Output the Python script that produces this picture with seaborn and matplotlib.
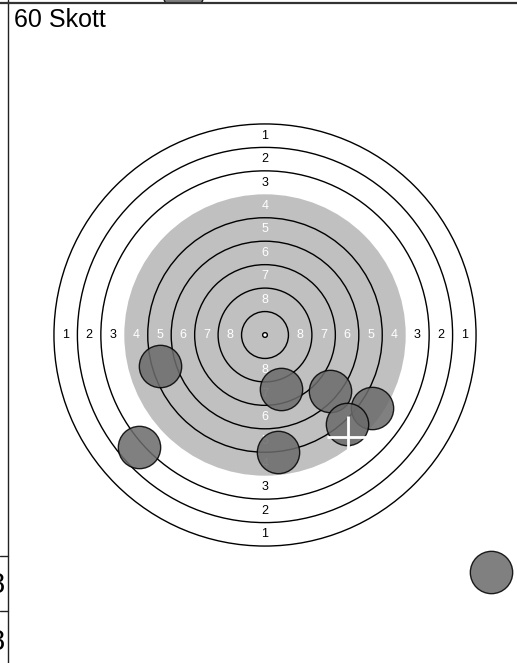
import numpy as np
import matplotlib
matplotlib.use('Agg')
import matplotlib.pyplot as plt
from matplotlib.patches import Circle, Rectangle
import seaborn as sns

# Target geometry in ring units (1 unit = distance between two rings)
ring_scores = [1, 2, 3, 4, 5, 6, 7, 8, 9]
ring_radii = [9, 8, 7, 6, 5, 4, 3, 2, 1]
label_scores = [1, 2, 3, 4, 5, 6, 7, 8]
black_rings = [6]  # radius of the grey aiming area (rings 4 and up)

# Shots, relative to target centre, in ring units
shot_x = [-4.46, 0.67, 2.76, 4.57, 3.50, -5.39, 0.54, 9.62]
shot_y = [-1.31, -2.31, -2.38, -3.11, -3.80, -4.79, -5.01, -10.11]

# Shot seen above the panel border (clipped)
top_x = [-3.50]
top_y = [14.67]

# Mean point of impact marker
mpi_x = [3.55]
mpi_y = [-4.35]

title = "60 Skott"
side_labels = ["8", "8"]

# pixel layout of the picture
W, H = 517, 663
cx, cy = 265.0, 335.0
px_per_unit = 23.45

sns.set_theme(style='white')
plt.rcParams['font.family'] = ['Liberation Sans', 'DejaVu Sans']

fig = plt.figure(figsize=(W / 100, H / 100), dpi=100)
ax = fig.add_axes([0, 0, 1, 1])
ax.set_xlim(-cx / px_per_unit, (W - cx) / px_per_unit)
ax.set_ylim(-(H - cy) / px_per_unit, cy / px_per_unit)
ax.axis('off')

# grey aiming area
ax.add_patch(Circle((0, 0), black_rings[0], facecolor='#c0c0c0', edgecolor='none', zorder=1))

# ring lines
for score, r in zip(ring_scores, ring_radii):
    if score == 4:
        continue  # edge of grey area has no line
    ax.add_patch(Circle((0, 0), r, facecolor='none', edgecolor='black', lw=1.0, zorder=2))

# the 10 ring dot
ax.add_patch(Circle((0, 0), 0.1, facecolor='white', edgecolor='black', lw=1.0, zorder=2))

# ring numbers on the four axes
for score in label_scores:
    d = 10 - score - 0.5
    col = 'white' if score >= 4 else 'black'
    for (dx, dy) in [(0, d), (0, -d), (-d, 0), (d, 0)]:
        ax.text(dx, dy, str(score), color=col, fontsize=9, ha='center', va='center', zorder=3)

# shots
sns.scatterplot(x=shot_x, y=shot_y, s=930, color='#6b6b6b', alpha=0.86,
                edgecolor='black', linewidth=1.0, ax=ax, zorder=5, legend=False)

# shot in the panel above, clipped at the border line
border_y = (cy - 3.2) / px_per_unit
sns.scatterplot(x=top_x, y=top_y, s=930, color='#6b6b6b', alpha=0.86,
                edgecolor='black', linewidth=1.0, ax=ax, zorder=5, legend=False)
clip = Rectangle((-20, border_y), 40, 10, transform=ax.transData)
ax.collections[-1].set_clip_path(clip)

# mean point of impact cross
arm = 0.9
for mx, my in zip(mpi_x, mpi_y):
    ax.plot([mx - arm, mx + arm], [my, my], color='white', lw=2, zorder=6, solid_capstyle='butt')
    ax.plot([mx, mx], [my - arm, my + arm], color='white', lw=2, zorder=6, solid_capstyle='butt')

# panel borders
vx = 8.3 / W
ax.plot([vx, vx], [0, 1], transform=ax.transAxes, color='#222222', lw=1.0, zorder=7)
ax.plot([0, 1], [1 - 3.2 / H, 1 - 3.2 / H], transform=ax.transAxes, color='#333333', lw=1.6, zorder=7)
for yy in [556, 611]:
    ax.plot([0, vx], [1 - yy / H, 1 - yy / H], transform=ax.transAxes, color='#222222', lw=1.0, zorder=7)

fig.text(14.5 / W, 1 - 27 / H, title, fontsize=18, ha='left', va='baseline', color='black')
for lbl, yy in zip(side_labels, [593, 650]):
    fig.text(5 / W, 1 - yy / H, lbl, fontsize=21, ha='right', va='baseline', color='black')

fig.savefig('out.png', dpi=100)
